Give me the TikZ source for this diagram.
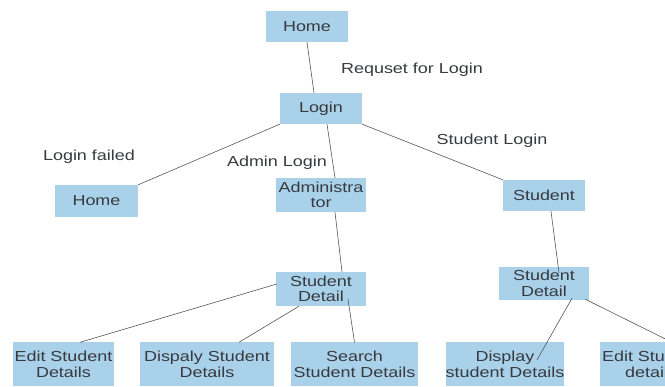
\documentclass[tikz,border=0pt]{standalone}
\usepackage{fontspec}
\setmainfont{Liberation Sans}[FakeStretch=1.24]
\usepackage{tikz}
\definecolor{boxblue}{RGB}{170,209,234}
\definecolor{inkgray}{RGB}{55,58,62}
\definecolor{linegray}{RGB}{85,85,85}

\begin{document}
\begin{tikzpicture}[x=1pt, y=-1pt]
    \tikzstyle{page} = [rectangle, fill=boxblue, text=inkgray, inner sep=0pt, align=center, minimum height=31, font=\fontsize{14.5}{15.5}\selectfont]
    \tikzstyle{tag} = [text=inkgray, inner sep=0pt, font=\fontsize{14.5}{15.5}\selectfont]
    \tikzstyle{link} = [draw=linegray, line width=0.6pt]
    \useasboundingbox (0,0) rectangle (665,387);
    \clip (0,0) rectangle (665,387);
    % pages
    \node[page, minimum width=82] (home) at (307,26.5) {Home};
    \node[page, minimum width=82] (login) at (321,108.5) {Login};
    \node[page, minimum width=83, minimum height=32] (homeB) at (96.5,201) {Home};
    \node[page, minimum width=90, minimum height=34] (admin) at (321,195) {Administra\\tor};
    \node[page, minimum width=82] (student) at (544,195.5) {Student};
    \node[page, minimum width=90, minimum height=34] (detailA) at (321,289) {Student\\Detail};
    \node[page, minimum width=90, minimum height=33] (detailS) at (544,283.5) {Student\\Detail};
    \node[page, minimum width=101, minimum height=44] (editA) at (63.5,364.5) {Edit Student\\Details};
    \node[page, minimum width=134, minimum height=44] (showA) at (207,364.5) {Dispaly Student\\Details};
    \node[page, minimum width=127, minimum height=44] (search) at (354.5,364.5) {Search\\Student Details};
    \node[page, minimum width=114, minimum height=44] (showS) at (505,364.5) {Display\\student Details};
    \node[page, minimum width=102, minimum height=44] (editS) at (651,364.5) {Edit Student\\details};
    % edge texts
    \node[tag] (request) at (412,70) {Requset for Login};
    \node[tag] (failed) at (89,157) {Login failed};
    \node[tag] (adminLogin) at (277,163) {Admin Login};
    \node[tag] (studentLogin) at (492,141) {Student Login};
    % links
    \draw[link] (home.south) -- ([xshift=-7]login.north);
    \draw[link] (login.south west) -- (homeB.north east);
    \draw[link] ([xshift=6]login.south) -- ([xshift=14]admin.north);
    \draw[link] (login.south east) -- (student.north west);
    \draw[link] ([xshift=14]admin.south) -- ([xshift=21]detailA.north);
    \draw[link] ([xshift=7]student.south) -- ([xshift=15, yshift=-6]detailS.north);
    \draw[link] ([xshift=1, yshift=5]detailA.west) -- ([xshift=16.5]editA.north);
    \draw[link] ([xshift=-22]detailA.south) -- ([xshift=32]showA.north);
    \draw[link] ([xshift=27, yshift=7]detailA.south) -- (search.north);
    \draw[link] ([xshift=28, yshift=2]detailS.south) -- ([xshift=32, yshift=4.5]showS.center);
    \draw[link] ([xshift=-4, yshift=1]detailS.south east) -- ([xshift=21]editS.north);
\end{tikzpicture}
\end{document}
